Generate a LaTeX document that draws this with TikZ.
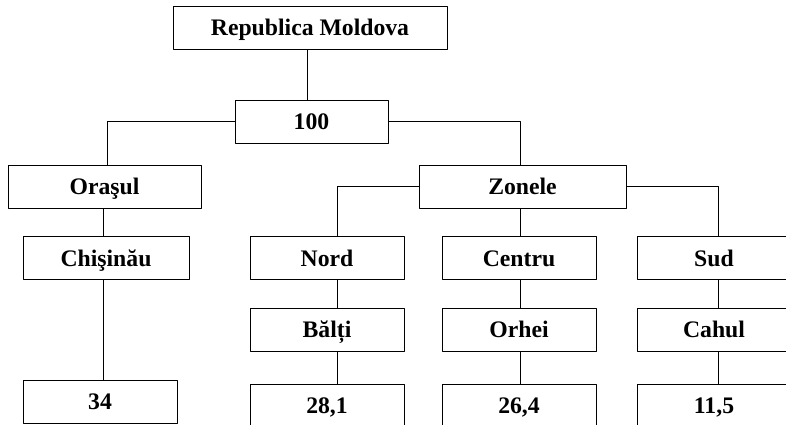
\documentclass[tikz,border=0pt]{standalone}
\usepackage{fontspec}
\setmainfont{Liberation Serif}
\begin{document}
\begin{tikzpicture}[x=1pt,y=-1pt,line join=round,line width=.8pt,
	box/.style={draw,inner sep=0pt,minimum height=43pt,minimum width=154pt,text height=16pt,text depth=0pt},
	font=\fontsize{23.7}{28}\selectfont\bfseries]
				\clip (0,0) rectangle (786,425);
				\path
				(310,27.5) node[box,minimum width=274pt] (rm) {Republica Moldova}
				(311.5,121.5) node[box,minimum width=153pt] (total) {100}
				(104.5,186.5) node[box,minimum width=193pt] (orasul) {Oraşul}
				(522.5,186.5) node[box,minimum width=207pt] (zonele) {Zonele}
				(106,258) node[box,minimum width=166pt] (chis) {Chişinău}
				(327,258) node[box] (nord) {Nord}
				(519,258) node[box] (centru) {Centru}
				(714,258) node[box] (sud) {Sud}
				(327,329.5) node[box] (balti) {Bălți}
				(519,329.5) node[box] (orhei) {Orhei}
				(714,329.5) node[box] (cahul) {Cahul}
				(100,401.5) node[box] (v34) {34}
				(327,405.5) node[box] (v281) {28,1}
				(519,405.5) node[box] (v264) {26,4}
				(714,405.5) node[box] (v115) {11,5}
				;
				\draw ([xshift=-3pt]rm.south)--([xshift=-3pt]rm.south |- total.north);
				\draw (total.west) -| ([xshift=2.5pt]orasul.north);
				\draw (total.east) -| ([xshift=-2.5pt]zonele.north);
				\draw ([xshift=-1.5pt]orasul.south)--([xshift=-1.5pt]orasul.south |- chis.north);
				\draw ([xshift=-3pt]chis.south)--([xshift=-3pt]chis.south |- v34.north);
				\draw (zonele.west) -| ([xshift=10pt]nord.north);
				\draw (zonele.east) -| ([xshift=4pt]sud.north);
				\draw ([xshift=-2.5pt]zonele.south)--([xshift=1pt]centru.north);
				\foreach \top/\mid/\low/\s in {nord/balti/v281/10pt,centru/orhei/v264/1pt,sud/cahul/v115/4pt}{
					\draw ([xshift=\s]\top.south)--([xshift=\s]\mid.north);
					\draw ([xshift=\s]\mid.south)--([xshift=\s]\low.north);
				}
		\end{tikzpicture}
\end{document}
